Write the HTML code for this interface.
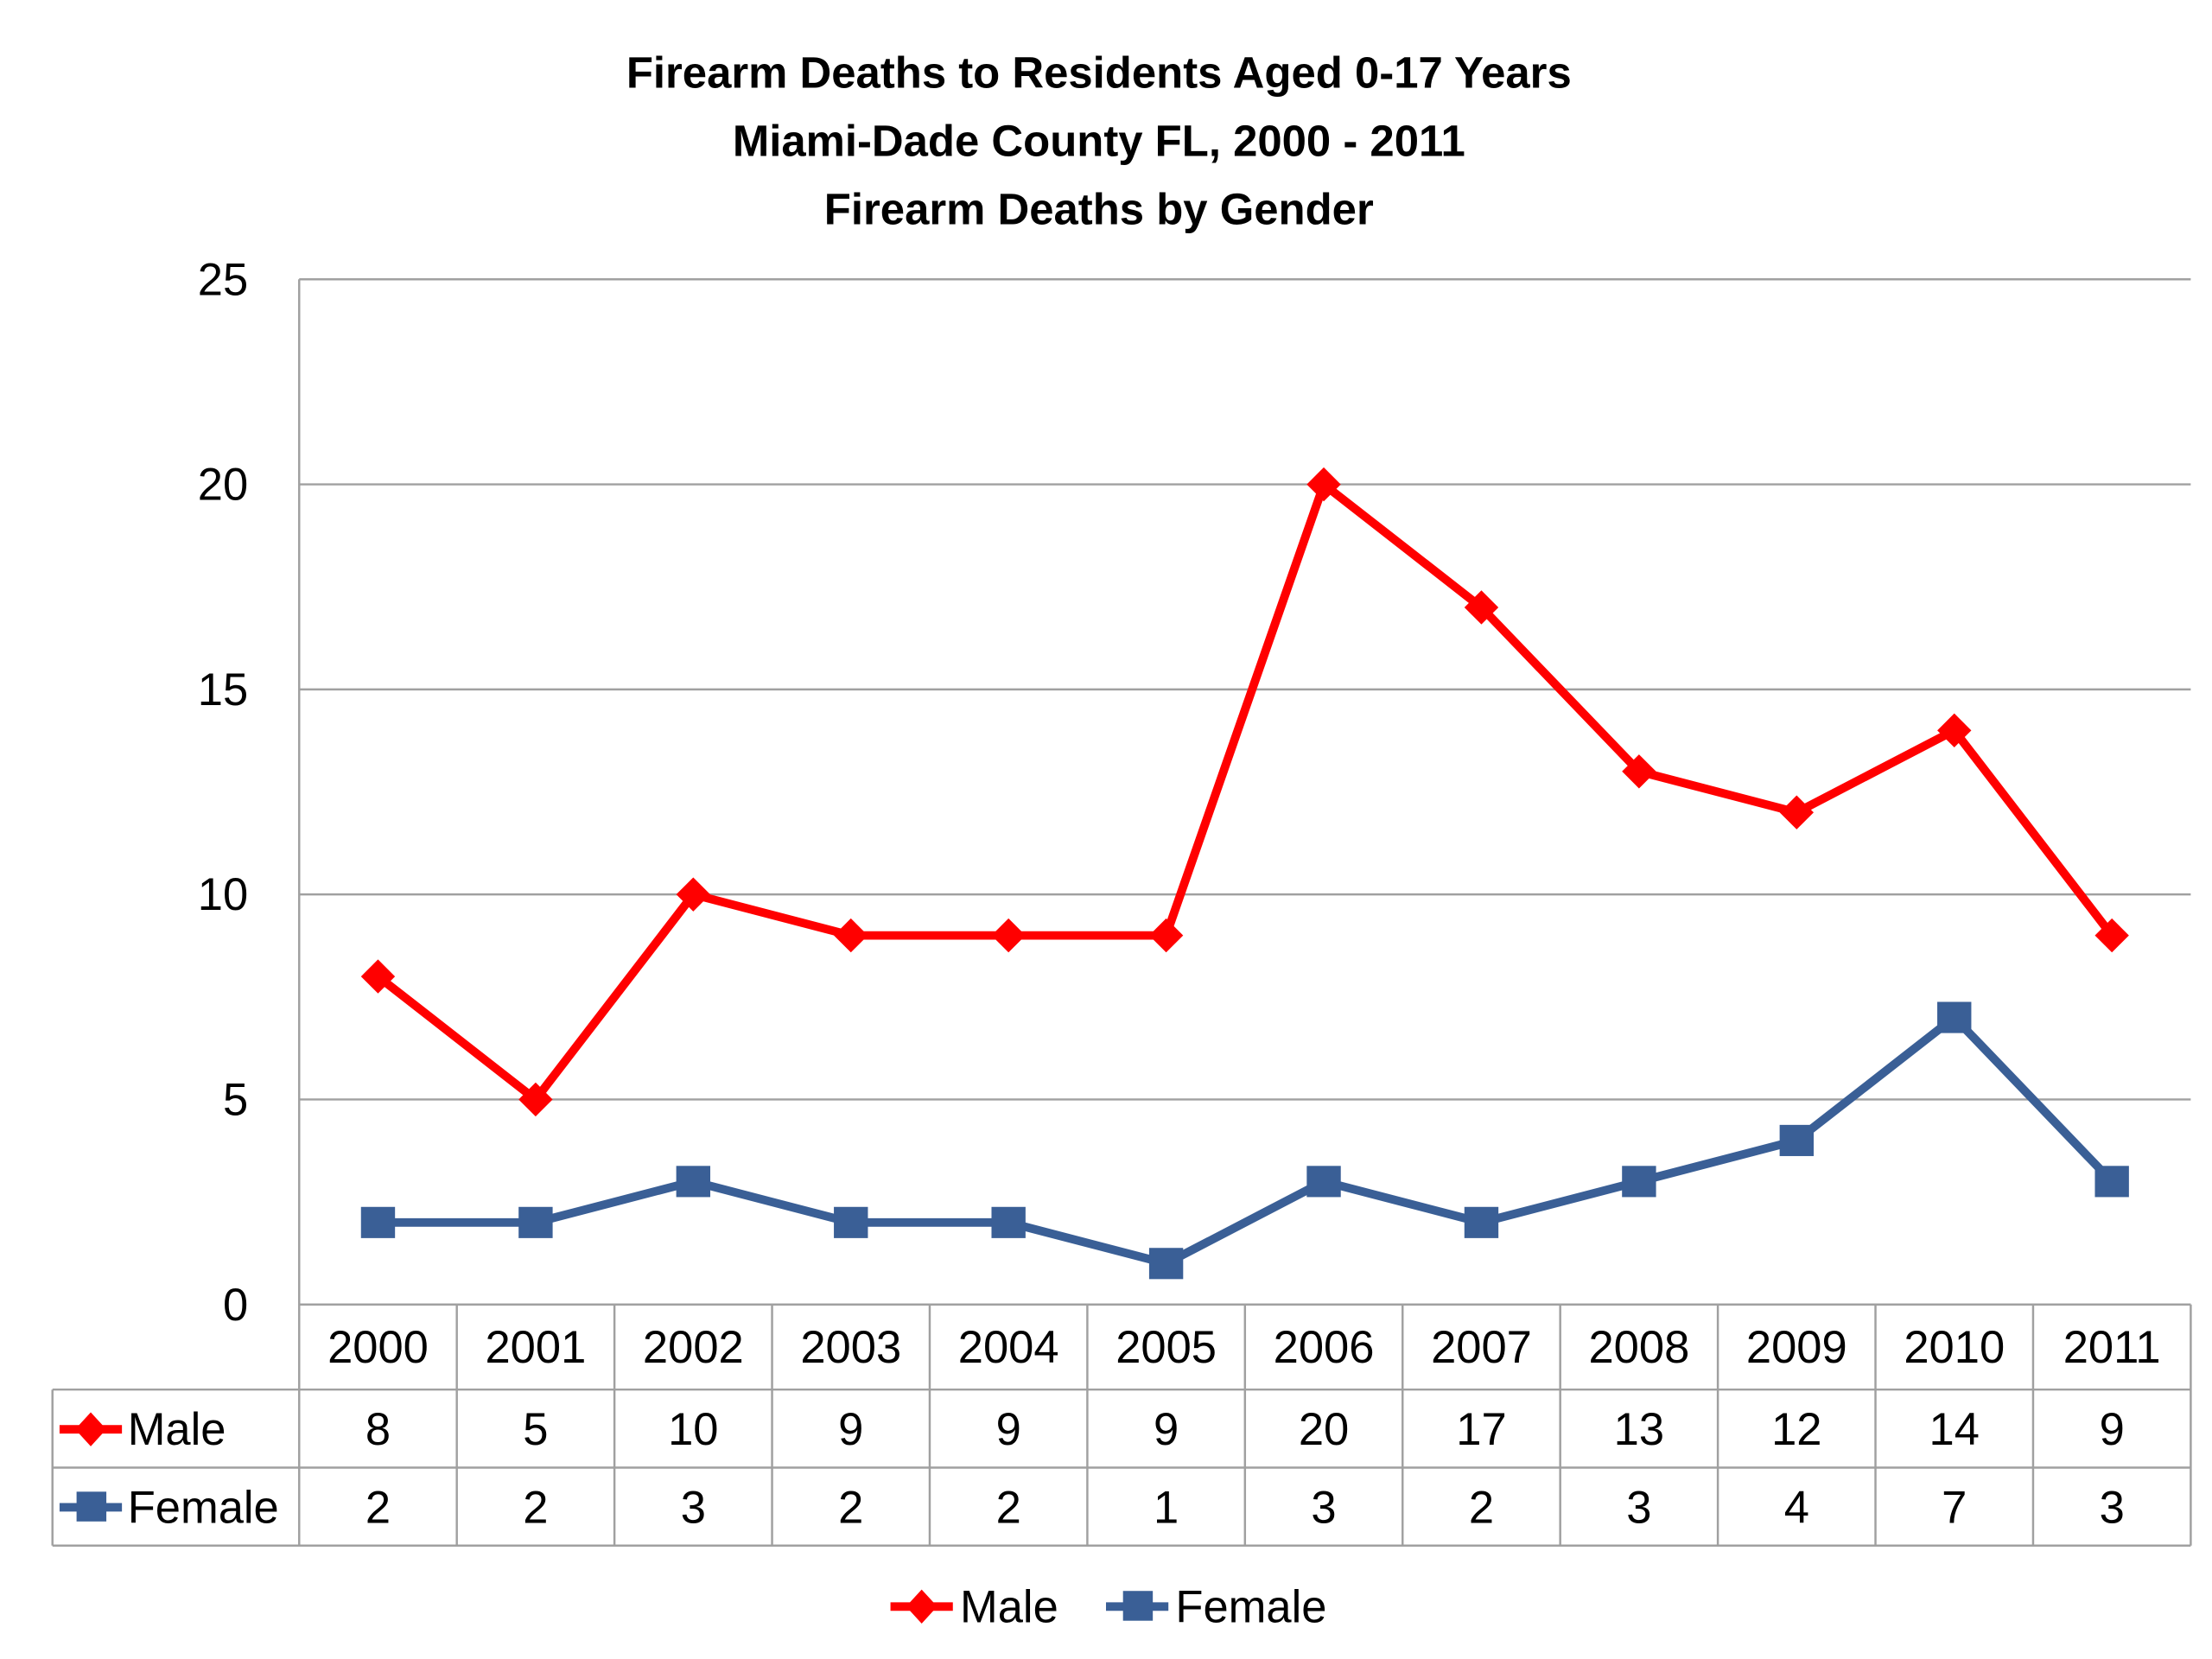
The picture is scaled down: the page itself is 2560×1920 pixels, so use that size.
<!DOCTYPE html>
<html><head><meta charset="utf-8"><style>
html,body{margin:0;padding:0;background:#fff}
svg{display:block}
text{font-family:"Liberation Sans",sans-serif;fill:#000}
</style></head><body>
<svg id="chart" width="2560" height="1920" viewBox="0 0 1560 1170" preserveAspectRatio="none">
<g>
<text x="775" y="62" font-size="31" font-weight="bold" text-anchor="middle">Firearm Deaths to Residents Aged 0-17 Years</text>
<text x="775" y="110" font-size="31" font-weight="bold" text-anchor="middle">Miami-Dade County FL, 2000 - 2011</text>
<text x="775" y="158" font-size="31" font-weight="bold" text-anchor="middle">Firearm Deaths by Gender</text>
</g>
<g id="grid"></g><g id="table"></g><g id="series"></g>
<g>
<g>
<line x1="628" y1="1133" x2="672" y2="1133" stroke="#ff0000" stroke-width="6"/>
<path d="M650 1121 L661 1133 L650 1145 L639 1133Z" fill="#ff0000"/>
<text x="677" y="1144" font-size="32">Male</text></g>
<g>
<line x1="780" y1="1133" x2="824" y2="1133" stroke="#3a5f96" stroke-width="6"/>
<rect x="792" y="1122" width="21" height="21" fill="#3a5f96"/>
<text x="829" y="1144" font-size="32">Female</text></g>
</g>
</svg>
<script>
const categories=["2000","2001","2002","2003","2004","2005","2006","2007","2008","2009","2010","2011"];
const maleValues=[8,5,10,9,9,9,20,17,13,12,14,9];
const femaleValues=[2,2,3,2,2,1,3,2,3,4,7,3];
const yTicks=[0,5,10,15,20,25];
const NS="http://www.w3.org/2000/svg";
const X0=211,X1=1545,Y0=920,Y1=197,YMAX=25;
const cw=(X1-X0)/categories.length;
function xs(i){return X0+cw*(i+0.5);}
function ys(v){return Y0-(v/YMAX)*(Y0-Y1);}
function mk(tag,attrs,parent){const e=document.createElementNS(NS,tag);for(const k in attrs)e.setAttribute(k,attrs[k]);parent.appendChild(e);return e;}
const grid=document.getElementById('grid'),table=document.getElementById('table'),series=document.getElementById('series');
yTicks.forEach(t=>{
 const l=mk('line',{x1:X0,x2:X1,y1:ys(t),y2:ys(t),stroke:'#a0a0a0','stroke-width':1.5},grid);
 
 
 const tx=mk('text',{x:175,y:ys(t)+11,'font-size':32,'text-anchor':'end'},grid);
 tx.textContent=t;
 
 
});
const ax=mk('line',{x1:X0,x2:X0,y1:Y1,y2:1090,stroke:'#a0a0a0','stroke-width':1.5},grid);


// table
const rows=[980,1035,1090];
[[X0,Y0+0,X1,Y0],[37,980,X1,980],[37,1035,X1,1035],[37,1090,X1,1090],[37,980,37,1090]].forEach(a=>{
 const l=mk('line',{x1:a[0],y1:a[1],x2:a[2],y2:a[3],stroke:'#a0a0a0','stroke-width':1.5},table);
 
 
});
categories.forEach((c,i)=>{
 const l=mk('line',{x1:X0+cw*(i+1),x2:X0+cw*(i+1),y1:Y0,y2:1090,stroke:'#a0a0a0','stroke-width':1.5},table);
 
 
 const h=mk('text',{x:xs(i),y:961,'font-size':32,'text-anchor':'middle'},table);h.textContent=c;
 
 
 const m=mk('text',{x:xs(i),y:1019,'font-size':32,'text-anchor':'middle'},table);m.textContent=maleValues[i];
 
 
 const f=mk('text',{x:xs(i),y:1074,'font-size':32,'text-anchor':'middle'},table);f.textContent=femaleValues[i];
 
 
});
// row headers
let g=mk('g',{},table);


mk('line',{x1:42,y1:1008,x2:86,y2:1008,stroke:'#ff0000','stroke-width':6},g);
mk('path',{d:'M64 996 L75 1008 L64 1020 L53 1008Z',fill:'#ff0000'},g);
let t=mk('text',{x:90,y:1019,'font-size':32},g);t.textContent='Male';
g=mk('g',{},table);


mk('line',{x1:42,y1:1063,x2:86,y2:1063,stroke:'#3a5f96','stroke-width':6},g);
mk('rect',{x:54,y:1052,width:21,height:21,fill:'#3a5f96'},g);
t=mk('text',{x:90,y:1074,'font-size':32},g);t.textContent='Female';
// series
function drawSeries(vals,color,name,marker){
 const pts=vals.map((v,i)=>xs(i)+','+ys(v)).join(' ');
 const pl=mk('polyline',{points:pts,fill:'none',stroke:color,'stroke-width':6,'stroke-linejoin':'round'},series);
 
 
 vals.forEach((v,i)=>{
  const x=xs(i),y=ys(v);let e;
  if(marker==='d')e=mk('path',{d:`M${x} ${y-12} L${x+12} ${y} L${x} ${y+12} L${x-12} ${y}Z`,fill:color},series);
  else e=mk('rect',{x:x-12,y:y-11,width:24,height:22,fill:color},series);
  
  
 });
}
drawSeries(femaleValues,'#3a5f96','female','s');
drawSeries(maleValues,'#ff0000','male','d');
</script>
</body></html>
